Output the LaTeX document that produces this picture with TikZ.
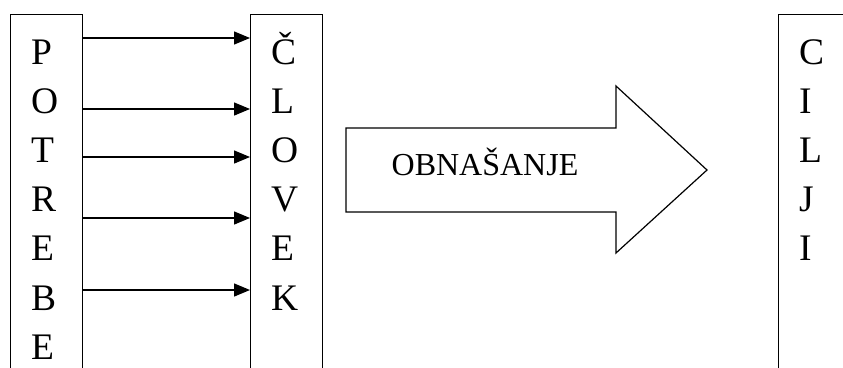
\documentclass[tikz,border=0pt]{standalone}
\usepackage{fontspec}
\setmainfont{Liberation Serif}
\usetikzlibrary{arrows.meta}
\begin{document}
\begin{tikzpicture}[x=1pt,y=-1pt,
  colbox/.style={draw=black,line width=1.2pt,minimum width=72pt,minimum height=420pt,inner sep=0pt,anchor=north west},
  letter/.style={font=\fontsize{37.5}{40}\selectfont,anchor=base west,inner sep=0pt},
  link/.style={line width=1.4pt,-{Triangle[length=16pt,width=13pt]}},
  bigarrow/.style={draw=black,line width=1.2pt,fill=white},
  label/.style={font=\fontsize{32}{34}\selectfont,anchor=base,inner sep=0pt}]
\useasboundingbox (0,0) rectangle (843,367);
\clip (0,0) rectangle (843,367);
% columns
\node[colbox] (lbox) at (10,14) {};
\node[colbox] (mbox) at (250,14) {};
\node[colbox] (rbox) at (778,14) {};
% letters
\foreach \l [count=\i] in {P,O,T,R,E,B,E}
  \node[letter] (p\i) at (31,{64+49.2*(\i-1)}) {\l};
\foreach \l [count=\i] in {Č,L,O,V,E,K}
  \node[letter] (c\i) at (271,{64+49.2*(\i-1)}) {\l};
\foreach \l [count=\i] in {C,I,L,J,I}
  \node[letter] (g\i) at (799,{64+49.2*(\i-1)}) {\l};
% arrows
\foreach \y in {38,109,157,218,290}
  \draw[link] (lbox.east |- 0,\y) -- (mbox.west |- 0,\y);
% big arrow
\draw[bigarrow] (346,128) -- (616,128) -- (616,86) -- (707,170) -- (616,253) -- (616,212) -- (346,212) -- cycle;
\node[label] (obn) at (485,175) {OBNAŠANJE};
\end{tikzpicture}
\end{document}
